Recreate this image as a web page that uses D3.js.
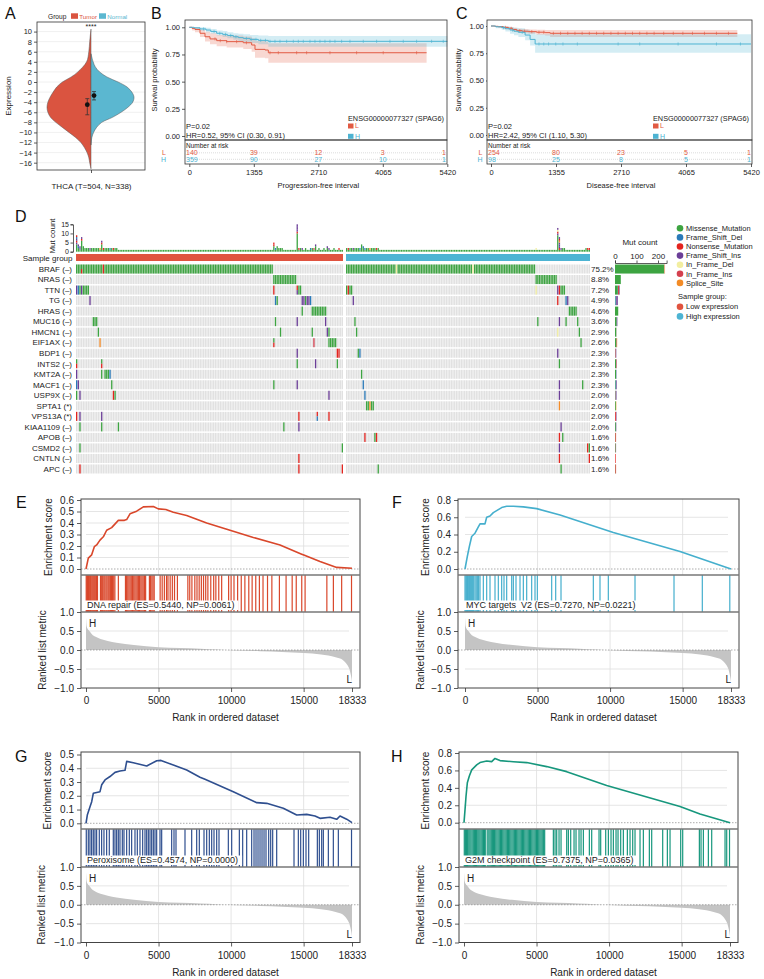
<!DOCTYPE html>
<html><head><meta charset="utf-8">
<script src="https://cdn.jsdelivr.net/npm/d3@7/dist/d3.min.js"></script>
<style>html,body{margin:0;padding:0;background:#fff;}svg{display:block;}</style>
</head><body>
<script>
// ================= DATA =================
// ---- Panel A (violin)
const aCategory = ['THCA (T=504, N=338)'];
const aGroups = ['Tumor','Normal'];
const aTicks = [10,8,6,4,2,0,-2,-4,-6,-8,-10,-12,-14,-16];
const tumorLevels = [10.5,8,6,4,2,1,0,-1,-2,-3,-4,-5,-6,-7,-8,-9,-10,-11,-12,-13,-14,-15,-16,-17.2];
const tumorDensity = [0,0.03,0.05,0.1,0.3,0.45,0.65,0.78,0.86,0.93,0.98,1.0,0.98,0.92,0.8,0.65,0.5,0.35,0.23,0.15,0.09,0.05,0.03,0];
const normalLevels = [5.6,4,3,2,1,0,-1,-2,-3,-4,-5,-6,-7,-8,-9,-10,-11,-12.5];
const normalDensity = [0,0.05,0.1,0.2,0.37,0.63,0.84,0.95,1.0,0.97,0.86,0.7,0.5,0.25,0.13,0.06,0.02,0];
const aCenter = [-4.5,-2.7];
const aLower = [-6.5,-3.55];
const aUpper = [-3.3,-1.9];

// ---- Panels B, C (Kaplan-Meier)
const kmTicks = [0,1355,2710,4065,5420];
const bLowTime = [0,60,120,225,330,435,575,785,1134,1310,1380,1590,1660,4985];
const bLowSurv = [1,0.99,0.98,0.945,0.913,0.893,0.877,0.868,0.858,0.837,0.797,0.791,0.766,0.766];
const bLowLo   = [1,0.97,0.955,0.91,0.87,0.845,0.825,0.815,0.8,0.775,0.72,0.715,0.674,0.674];
const bLowHi   = [1,1,1,0.98,0.96,0.945,0.93,0.925,0.915,0.9,0.875,0.87,0.853,0.853];
const bLowCens = [540,650,785,995,1200,1695,1870,2255,2465,2955,3515,4074,4775];
const bHighTime = [0,100,225,350,450,575,700,800,925,1030,1135,1275,1450,1660,5420];
const bHighSurv = [1,0.995,0.985,0.975,0.962,0.945,0.935,0.925,0.913,0.905,0.898,0.889,0.88,0.871,0.871];
const bHighLo   = [1,0.985,0.97,0.955,0.94,0.925,0.91,0.9,0.885,0.875,0.865,0.855,0.845,0.822,0.822];
const bHighHi   = [1,1,1,0.995,0.985,0.97,0.965,0.955,0.945,0.94,0.935,0.93,0.925,0.92,0.92];
const bHighCens = [300,520,640,760,870,980,1200,1300,1400,1500,1600,1695,1800,1905,2045,2185,2290,2395,2535,2640,2745,2850,2955,3060,3200,3375,3655,3935,4215,4495,4775,5090,5335];
const bRiskL = [140,39,12,3,1];
const bRiskH = [359,90,27,10,1];

const cLowTime = [0,80,153,250,362,450,537,650,780,950,1129,1233,5135];
const cLowSurv = [1,0.997,0.994,0.987,0.979,0.968,0.957,0.952,0.948,0.943,0.939,0.933,0.933];
const cLowLo   = [1,0.99,0.985,0.975,0.965,0.95,0.94,0.933,0.928,0.92,0.912,0.9,0.9];
const cLowHi   = [1,1,1,0.997,0.99,0.985,0.975,0.972,0.968,0.965,0.963,0.963,0.963];
const cLowCens = [300,420,600,700,850,1000,1100,1300,1450,1600,1750,1900,2050,2200,2350,2500,2650,2800,2950,3100,3250,3400,3600,3800,4000,4200,4450,4700,4950];
const cHighTime = [0,100,223,300,397,480,571,711,815,920,5420];
const cHighSurv = [1,0.993,0.985,0.975,0.963,0.952,0.942,0.917,0.877,0.835,0.835];
const cHighLo   = [1,0.98,0.965,0.95,0.93,0.915,0.9,0.87,0.82,0.755,0.755];
const cHighHi   = [1,1,1,0.995,0.99,0.985,0.98,0.965,0.945,0.925,0.925];
const cHighCens = [260,450,650,1000,1100,1200,1350,1500,1800,2650,3100,3900,4700,5200];
const cRiskL = [254,80,23,5,1];
const cRiskH = [98,25,8,5,1];

// ---- Panel D (oncoplot)
const geneNames = ['BRAF','NRAS','TTN','TG','HRAS','MUC16','HMCN1','EIF1AX','BDP1','INTS2','KMT2A','MACF1','USP9X','SPTA1','VPS13A','KIAA1109','APOB','CSMD2','CNTLN','APC'];
const geneTags = ['–','–','–','–','–','–','–','–','–','–','–','–','–','*','*','–','–','–','–','–'];
const genePct = ['75.2%','8.8%','7.2%','4.9%','4.6%','3.6%','2.9%','2.6%','2.3%','2.3%','2.3%','2.3%','2.0%','2.0%','2.0%','2.0%','1.6%','1.6%','1.6%','1.6%'];
const typeCodes = ['M','D','N','I','F','S','P'];
const typeNames = ['Missense_Mutation','Frame_Shift_Del','Nonsense_Mutation','Frame_Shift_Ins','In_Frame_Del','In_Frame_Ins','Splice_Site'];
const typeColors = ['#3DA441','#2A7AB9','#E3241F','#6B3E98','#F2EEA0','#D4414F','#F38B26'];
const groupNames = ['Low expression','High expression'];
const groupColors = ['#E0533F','#4DB4D3'];
// sample index : variant code, per gene (low expression group)
const lowMut = [
 '0-117:M,16:N,3:MN',
 '118-131:M',
 '0:I,1:D,2:M,3:I,4-7:M,118:N,132:NI,133-134:M',
 '8:I,119:D,120:M,135:I,136:I,137:M,138:I,139:I,140:D',
 '135:M,141-149:M',
 '10-12:M,119:M,132:I,149:I',
 '13:M,122:M,141:M,150:I,151:M',
 '14:P,118:MN,142:S,151-155:M',
 '132:I,156-157:N',
 '0:MN,15:MN,132:M,143:I,156:M',
 '0:I,15:M,17-19:M,20:D',
 '0:D,1:I,21:M,118:M,132:I',
 '0:M,2:I,22:N,23:M,151:I',
 '',
 '0:N,2:I,15:I,133:N,144:ND,151:N',
 '2:M,15:M,25:M,124:M,133:I',
 '',
 '2:M,159:M',
 '133:N',
 '2:N,133:N,159:N'
];
// high expression group
const highMut = [
 '0-113:M,30:F,76:F',
 '114-126:M',
 '0:M,1:N,2-3:M,114:F,127:I,128:N,129-131:M',
 '4:I,127:N,132:D,133:I',
 '134-138:M',
 '5:M,115:M,128:I,132:M,139:M',
 '6:M,127:F,140:M',
 '141:M',
 '7:M,8:D,127:I',
 '128:M',
 '9:M',
 '10:D,128:I,142:M',
 '11:D,128:I',
 '12:M,13:M,14:P,15:M,16:M,128:P',
 '',
 '129:I',
 '11:N,17:M,18:N,128:N,130:M',
 '128:I,145:N,146:M',
 '128:N,146:N',
 '19:M,129:M'
];
const tmbTicks = [0,5,10,15];
const tmbLow = [9,4,3,8,3, 2,2,2,2,2,2,2,2,2,2, 6, 2,2,2,2,2,2,2,2,2,
 1,1,1,1,1,1,1,1,1,1, 1,1,1,1,1,1,1,1,1,1, 1,1,1,1,1,1,1,1,1,1, 1,1,1,1,1,1,1,1,1,1,
 1,1,1,1,1,1,1,1,1,1, 1,1,1,1,1,1,1,1,1,1, 1,1,1,1,1,1,1,1,1,1, 1,1,1,1,1,1,1,1,1,1,
 1,1,1,1,1,1,1,1,1,1, 1,1,1,
 5, 2,3,2,2,2, 1,1,1,1,1,1,1,1, 15, 2,2,2,1,2,1,1,2, 2,2,4, 1,2,1,1,2,1, 3, 2,1,1,2,1,1,2,1,1];
const tmbHigh = [2,2,2,2,2,2,2,2,2,4,3, 2,2,2,2,2,2,2,2,2,
 1,1,1,1,1,1,1,1,1,1, 1,1,1,1,1,1,1,1,1,1, 1,1,1,1,1,1,1,1,1,1, 1,1,1,1,1,1,1,1,1,1,
 1,1,1,1,1,1,1,1,1,1, 1,1,1,1,1,1,1,1,1,1, 1,1,1,1,1,1,1,1,1,1, 1,1,1,1,1,1,1,1,1,1,
 1,1,1,1,1,1,1,1,1,1, 1,1,1,1,
 2, 1,1,1,1,1,1,1,1,1,1,1,1, 13, 8, 2,2,2,1,1,1,1,1,1,1,1,1,1,1,1,2,2,2];
const barTicks = [0,100,200];

// ---- Panels E-H (GSEA)
const nGenes = 18333;
const rankTicks = [0,5000,10000,15000,18333];
const metricTicks = [-1,-0.5,0,0.5,1];
const metricRank = [0,40,120,230,470,700,1000,1500,2100,3300,5000,6500,7900,9000,10300,12000,13500,15000,16200,17200,17700,18000,18150,18250,18300,18333];
const metricVal = [0.86,0.63,0.55,0.5,0.39,0.34,0.29,0.24,0.19,0.13,0.071,0.05,0.03,0.01,-0.01,-0.03,-0.05,-0.08,-0.12,-0.19,-0.26,-0.39,-0.5,-0.65,-0.75,-0.84];

const eRank = [0,159,391,574,735,965,1195,1424,1769,2228,2650,2803,3033,3492,3951,4640,4984,5500,6018,6937,8316,9924,11531,13371,14866,15100,16127,17278,18333];
const eES = [0,0.094,0.123,0.194,0.209,0.251,0.28,0.337,0.36,0.423,0.423,0.43,0.48,0.503,0.54,0.544,0.523,0.517,0.494,0.466,0.4,0.337,0.274,0.209,0.129,0.117,0.066,0.014,0.006];
const eHits = [15,60,110,170,230,300,360,430,500,570,640,720,790,1000,1080,1150,1230,1300,1380,1450,1530,1600,1680,1760,1830,1910,1990,2230,2720,2800,2880,2960,3040,3120,3200,3290,3370,3450,3530,3610,3690,3780,3860,3940,4030,4110,4370,4450,4540,4620,4700,5110,5250,5400,5550,5650,5800,5950,6100,6300,7020,7150,7300,7500,7650,7800,7950,8100,8250,8400,8600,8800,8950,9150,9350,9830,10000,10200,10450,10700,10950,11220,11450,11700,11950,12200,12510,12810,13330,13790,14210,14490,14870,15100,16600,17050,17620,18300];

const fRank = [0,161,299,460,689,873,1034,1378,1494,1723,1953,2183,2527,2872,3332,4021,4940,6550,10222,14819,18333];
const fES = [0,0.146,0.26,0.377,0.415,0.473,0.523,0.523,0.6,0.615,0.654,0.677,0.712,0.727,0.727,0.72,0.7,0.627,0.424,0.204,0];
const fHits = [0,60,115,180,253,320,391,460,529,600,689,770,850,940,1034,1264,1494,1723,2068,2297,2527,2688,2872,3217,3332,3515,3791,4021,4251,4595,4825,4986,5974,6250,6617,8845,9304,9878,11717,14405,16356,18250];

const gRank = [0,90,276,393,503,965,1082,1310,1654,1999,2343,2688,2805,3260,4183,4873,5169,6017,6940,7857,8201,10152,11765,12454,13598,14521,15211,15783,16127,16816,17278,17506,17967,18333];
const gES = [0,0.06,0.12,0.157,0.218,0.23,0.28,0.315,0.34,0.37,0.38,0.385,0.45,0.44,0.416,0.455,0.457,0.423,0.387,0.335,0.32,0.23,0.15,0.145,0.109,0.06,0.065,0.053,0.036,0.044,0.029,0.053,0.03,0.005];
const gHits = [20,158,273,388,503,618,733,917,1077,1238,1422,1606,1882,1997,2112,2227,2342,2503,2618,2802,2985,3146,3376,3537,3721,3905,4066,4181,4296,4411,4526,4640,4755,4870,5100,5215,5904,6065,6203,6823,7283,7628,7811,8133,8317,8501,8662,8822,9006,9167,9810,10040,10569,10798,11074,11419,11580,11717,11855,11993,12131,12269,12406,12590,12728,12866,13142,14336,14635,14796,14980,15163,15347,15945,16083,16243,16358,16703,17047,17392,18300];

const hRank = [0,69,138,230,368,531,875,1103,1564,1909,2137,2481,3398,4321,5700,7078,9835,14887,16265,18333];
const hES = [0,0.147,0.3,0.458,0.536,0.606,0.663,0.69,0.709,0.701,0.7375,0.713,0.70,0.69,0.644,0.586,0.427,0.186,0.10,0];
const hHits = [20,95,170,250,330,405,480,560,640,715,790,870,950,1025,1100,1180,1260,1340,1420,1500,1640,1720,1800,1880,1955,2030,2110,2190,2270,2350,2430,2510,2590,2670,2750,2830,2910,2990,3070,3150,3230,3310,3390,3470,3550,3630,3710,3790,3870,3950,4030,4110,4190,4270,4350,4430,4510,4590,4670,4750,4830,4910,4990,5070,5150,5230,5310,5390,5470,5560,6159,6274,6389,6550,6688,7078,7193,7354,7584,7721,7928,8066,8227,8640,8801,9306,9421,9766,9950,10133,10294,10478,10616,10799,10983,11259,11443,11627,11787,12132,12362,12775,12936,13694,14016,14200,14935,15073,16222,16337,16498,16842,17072,17991,18106,18300];

// ================= DRAWING =================
const FONT = '"Liberation Sans", Arial, Helvetica, sans-serif';
const svg = d3.select('body').append('svg').attr('width',764).attr('height',979).attr('font-family',FONT);
svg.append('rect').attr('width',764).attr('height',979).attr('fill','#fff');

function txt(g, s, x, y, o = {}) {
  const t = g.append('text').attr('x', x).attr('y', y).text(s)
    .attr('font-size', o.size || 8).attr('fill', o.fill || '#222').style('white-space', 'pre');
  if (o.anchor) t.attr('text-anchor', o.anchor);
  if (o.rotate) t.attr('transform', `rotate(-90,${x},${y})`);
  return t;
}
function styleAxis(sel, size, keepDomain) {
  sel.attr('font-family', FONT).attr('font-size', size);
  sel.selectAll('text').attr('fill', '#222');
  sel.selectAll('line').attr('stroke', '#333').attr('stroke-width', 0.8);
  if (keepDomain) sel.select('.domain').attr('stroke', '#333').attr('stroke-width', 0.8);
  else sel.select('.domain').remove();
}

// panel letters
[['A',5,19],['B',151,19],['C',456,19],['D',15,222],['E',16,508],['F',392,508],['G',15,762],['H',391,762]]
  .forEach(([s,x,y]) => txt(svg, s, x, y, {size: 16, fill: '#111'}));

// ---------- Panel A ----------
(function () {
  const g = svg.append('g');
  const L = 37, R = 145, T = 22, B = 170;
  const y = d3.scaleLinear().domain([-17.45, 11.9]).range([B, T]);
  const x = d3.scalePoint().domain(aCategory).range([L, R]).padding(0.5);
  const col = d3.scaleOrdinal().domain(aGroups).range(['#DA5440', '#5BB7D0']);
  const cx = x(aCategory[0]);
  g.selectAll('.gl').data(aTicks).join('line')
    .attr('x1', L).attr('x2', R).attr('y1', d => y(d)).attr('y2', d => y(d))
    .attr('stroke', '#ececec').attr('stroke-width', 0.8);
  const wT = d3.scaleLinear().domain([0, 1]).range([0, 44]);
  const wN = d3.scaleLinear().domain([0, 1]).range([0, 43]);
  const tData = tumorLevels.map((v, i) => [v, tumorDensity[i]]);
  const nData = normalLevels.map((v, i) => [v, normalDensity[i]]);
  const areaT = d3.area().curve(d3.curveCatmullRom).y(d => y(d[0])).x0(d => cx - wT(d[1])).x1(cx);
  const areaN = d3.area().curve(d3.curveCatmullRom).y(d => y(d[0])).x0(cx).x1(d => cx + wN(d[1]));
  g.append('path').attr('d', areaT(tData)).attr('fill', col('Tumor')).attr('stroke', '#555').attr('stroke-width', 0.5);
  g.append('path').attr('d', areaN(nData)).attr('fill', col('Normal')).attr('stroke', '#555').attr('stroke-width', 0.5);
  const offs = [-3.7, 3];
  aGroups.forEach((grp, i) => {
    const px = cx + offs[i];
    g.append('line').attr('x1', px).attr('x2', px).attr('y1', y(aLower[i])).attr('y2', y(aUpper[i])).attr('stroke', '#333').attr('stroke-width', 0.8);
    [aLower[i], aUpper[i]].forEach(v => g.append('line').attr('x1', px - 2).attr('x2', px + 2).attr('y1', y(v)).attr('y2', y(v)).attr('stroke', '#333').attr('stroke-width', 0.8));
    g.append('circle').attr('cx', px).attr('cy', y(aCenter[i])).attr('r', 2.4).attr('fill', '#111');
  });
  g.append('rect').attr('x', L).attr('y', T).attr('width', R - L).attr('height', B - T).attr('fill', 'none').attr('stroke', '#333').attr('stroke-width', 0.8);
  g.append('g').attr('transform', `translate(${L},0)`).call(d3.axisLeft(y).tickValues(aTicks).tickSize(3).tickPadding(2)).call(s => styleAxis(s, 7.5));
  g.append('g').attr('transform', `translate(0,${B})`).call(d3.axisBottom(x).tickSize(3).tickPadding(10)).call(s => styleAxis(s, 8));
  txt(g, 'Expression', 11, (T + B) / 2, {size: 8, anchor: 'middle', rotate: true});
  txt(g, '****', cx, 29, {size: 7, anchor: 'middle'});
  // legend
  txt(g, 'Group', 48, 18.5, {size: 6.6});
  g.append('rect').attr('x', 71).attr('y', 13.3).attr('width', 7).attr('height', 5.5).attr('fill', col('Tumor'));
  txt(g, 'Tumor', 79.3, 18.5, {size: 6.2, fill: col('Tumor')});
  g.append('rect').attr('x', 99).attr('y', 13.3).attr('width', 7).attr('height', 5.5).attr('fill', col('Normal'));
  txt(g, 'Normal', 107.3, 18.5, {size: 6.2, fill: col('Normal')});
})();

// ---------- Panels B & C ----------
function drawKM(o) {
  const g = svg.append('g');
  const red = '#E15A43', blue = '#4DB3D2';
  const x = d3.scaleLinear().domain([0, 5420]).range(o.xr);
  const y = d3.scaleLinear().domain([0, 1]).range(o.yr);
  const band = d3.area().curve(d3.curveStepAfter).x(d => x(d.t)).y0(d => y(d.lo)).y1(d => y(d.hi));
  const line = d3.line().curve(d3.curveStepAfter).x(d => x(d.t)).y(d => y(d.s));
  const series = [
    {c: red, t: o.low[0], s: o.low[1], lo: o.low[2], hi: o.low[3], cens: o.low[4]},
    {c: blue, t: o.high[0], s: o.high[1], lo: o.high[2], hi: o.high[3], cens: o.high[4]}
  ];
  series.forEach(S => {
    S.data = S.t.map((t, i) => ({t, s: S.s[i], lo: S.lo[i], hi: S.hi[i]}));
    g.append('path').attr('d', band(S.data)).attr('fill', S.c).attr('opacity', 0.24);
  });
  series.forEach(S => {
    g.append('path').attr('d', line(S.data)).attr('fill', 'none').attr('stroke', S.c).attr('stroke-width', 1);
    S.cens.forEach(c => {
      const i = Math.max(0, d3.bisectRight(S.t, c) - 1);
      g.append('line').attr('x1', x(c)).attr('x2', x(c)).attr('y1', y(S.s[i]) - 1.6).attr('y2', y(S.s[i]) + 1.6).attr('stroke', S.c).attr('stroke-width', 0.6);
    });
  });
  g.append('rect').attr('x', o.L).attr('y', o.T).attr('width', o.R - o.L).attr('height', o.B - o.T).attr('fill', 'none').attr('stroke', '#333').attr('stroke-width', 0.8);
  g.append('g').attr('transform', `translate(${o.L},0)`)
    .call(d3.axisLeft(y).tickValues([0, 0.25, 0.5, 0.75, 1]).tickFormat(d3.format('.2f')).tickSize(o.tk).tickPadding(2))
    .call(s => styleAxis(s, 7.5));
  txt(g, 'Survival probability', o.ylabX, (o.T + o.B) / 2, {size: 7.5, anchor: 'middle', rotate: true});
  txt(g, o.p, o.L + 1, o.B - 10.7, {size: 7.5});
  txt(g, o.hr, o.L + 1, o.B - 2.3, {size: 7.5});
  // legend
  const tt = txt(g, 'ENSG00000077327 (SPAG6)', o.R - 3, o.B - 19.5, {size: 7.3, anchor: 'end'});
  const lx = o.R - 3 - tt.node().getComputedTextLength();
  g.append('rect').attr('x', lx).attr('y', o.B - 16.5).attr('width', 5.5).attr('height', 5).attr('fill', red);
  txt(g, 'L', lx + 7, o.B - 11.6, {size: 7, fill: red});
  g.append('rect').attr('x', lx).attr('y', o.B - 6.2).attr('width', 5.5).attr('height', 5).attr('fill', blue);
  txt(g, 'H', lx + 7, o.B - 1.3, {size: 7, fill: blue});
  // risk table
  g.append('rect').attr('x', o.L).attr('y', o.B).attr('width', o.R - o.L).attr('height', o.TB - o.B).attr('fill', 'none').attr('stroke', '#333').attr('stroke-width', 0.8);
  txt(g, 'Number at risk', o.L + 1, o.B + 8, {size: 6.5});
  [[o.B + 12.8, red, 'L', o.risk[0]], [o.B + 19.3, blue, 'H', o.risk[1]]].forEach(([yy, c, lab, vals]) => {
    g.append('line').attr('x1', o.L).attr('x2', o.R).attr('y1', yy).attr('y2', yy).attr('stroke', '#bbb').attr('stroke-width', 0.5).attr('stroke-dasharray', '1,1');
    txt(g, lab, o.rowLabX, yy + 2.5, {size: 7, fill: c, anchor: 'end'});
    vals.forEach((v, i) => {
      const last = i === vals.length - 1;
      const anchor = i === 0 ? 'start' : (last ? 'end' : 'middle');
      const xx = i === 0 ? o.L + 1 : (last ? o.R - 1 : x(kmTicks[i]));
      txt(g, v, xx, yy + 2.5, {size: 7, fill: c, anchor});
    });
  });
  g.append('g').attr('transform', `translate(0,${o.TB})`)
    .call(d3.axisBottom(x).tickValues(kmTicks).tickFormat(d3.format('d')).tickSize(3).tickPadding(3))
    .call(s => styleAxis(s, 7.5));
  txt(g, o.xlab, (o.xr[0] + o.xr[1]) / 2, o.TB + 23.5, {size: 7.5, anchor: 'middle'});
}
drawKM({L: 185, R: 447, T: 20, B: 140, TB: 164, xr: [189.3, 447.3], yr: [136, 27.3], tk: 3,
  low: [bLowTime, bLowSurv, bLowLo, bLowHi, bLowCens], high: [bHighTime, bHighSurv, bHighLo, bHighHi, bHighCens],
  risk: [bRiskL, bRiskH], p: 'P=0.02', hr: 'HR=0.52, 95% CI (0.30, 0.91)', xlab: 'Progression-free interval', ylabX: 157, rowLabX: 166});
drawKM({L: 487, R: 752, T: 20, B: 140, TB: 164, xr: [491, 751], yr: [135, 26], tk: 1,
  low: [cLowTime, cLowSurv, cLowLo, cLowHi, cLowCens], high: [cHighTime, cHighSurv, cHighLo, cHighHi, cHighCens],
  risk: [cRiskL, cRiskH], p: 'P=0.02', hr: 'HR=2.42, 95% CI (1.10, 5.30)', xlab: 'Disease-free interval', ylabX: 461, rowLabX: 482.5});

// ---------- Panel D ----------
function parseMut(str) {
  const m = new Map();
  if (!str) return m;
  str.split(',').forEach(tok => {
    const [r, t] = tok.split(':');
    const [a, b] = r.split('-').map(Number);
    const end = (b === undefined || isNaN(b)) ? a : b;
    for (let i = a; i <= end; i++) m.set(i, t);
  });
  return m;
}
(function () {
  const g = svg.append('g');
  const col = d3.scaleOrdinal().domain(typeCodes).range(typeColors);
  const yRow = d3.scaleBand().domain(geneNames).range([264.5, 473.5]).paddingInner(0.14);
  const yT = d3.scaleLinear().domain([0, 15]).range([251.7, 224.3]);
  const xB = d3.scaleLinear().domain([0, 240]).range([615, 666.6]);
  const groups = [
    {x: d3.scaleBand().domain(d3.range(tmbLow.length)).range([76, 343]).paddingInner(0.22), muts: lowMut.map(parseMut), tmb: tmbLow, color: groupColors[0]},
    {x: d3.scaleBand().domain(d3.range(tmbHigh.length)).range([346, 590]).paddingInner(0.22), muts: highMut.map(parseMut), tmb: tmbHigh, color: groupColors[1]}
  ];
  const counts = geneNames.map(() => ({}));
  groups.forEach(gr => {
    const bw = gr.x.bandwidth();
    geneNames.forEach((gene, gi) => {
      g.append('g').selectAll('rect').data(gr.x.domain()).join('rect')
        .attr('x', d => gr.x(d)).attr('y', yRow(gene)).attr('width', bw).attr('height', yRow.bandwidth()).attr('fill', '#E1E1E1');
      gr.muts[gi].forEach((t, idx) => {
        const h = yRow.bandwidth() / t.length;
        t.split('').forEach((c, k) => {
          g.append('rect').attr('x', gr.x(idx)).attr('y', yRow(gene) + k * h).attr('width', bw).attr('height', h).attr('fill', col(c));
          counts[gi][c] = (counts[gi][c] || 0) + 1;
        });
      });
    });
    gr.tmb.forEach((v, idx) => {
      const extra = [];
      gr.muts.forEach(m => { if (m.has(idx)) m.get(idx).split('').forEach(c => { if (c !== 'M') extra.push(c); }); });
      const ex = extra.slice(0, Math.max(0, v - 1));
      const stack = [['M', v - ex.length]].concat(ex.map(c => [c, 1]));
      let acc = 0;
      stack.forEach(([c, n]) => {
        if (n <= 0) return;
        g.append('rect').attr('x', gr.x(idx)).attr('width', bw).attr('y', yT(acc + n)).attr('height', yT(acc) - yT(acc + n)).attr('fill', col(c));
        acc += n;
      });
    });
    const r = gr.x.range();
    g.append('rect').attr('x', r[0]).attr('width', r[1] - r[0]).attr('y', 254).attr('height', 7).attr('fill', gr.color);
  });
  g.append('g').attr('transform', 'translate(73,0)').call(d3.axisLeft(yT).tickValues(tmbTicks).tickSize(2.5).tickPadding(1.5)).call(s => styleAxis(s, 7, true));
  txt(g, 'Mut count', 55, 236, {size: 8, anchor: 'middle', rotate: true});
  txt(g, 'Sample group', 72.5, 261, {size: 8, anchor: 'end'});
  geneNames.forEach((gene, gi) => {
    const yc = yRow(gene) + yRow.bandwidth() / 2 + 2.8;
    txt(g, `${gene} (${geneTags[gi]})`, 72, yc, {size: 8, anchor: 'end'});
    txt(g, genePct[gi], 591, yc, {size: 8});
    let acc = 0;
    typeCodes.forEach(c => {
      const n = counts[gi][c] || 0;
      if (!n) return;
      g.append('rect').attr('x', xB(acc)).attr('width', xB(acc + n) - xB(acc)).attr('y', yRow(gene)).attr('height', yRow.bandwidth()).attr('fill', col(c));
      acc += n;
    });
  });
  g.append('g').attr('transform', 'translate(0,263)').call(d3.axisTop(xB).tickValues(barTicks).tickSize(2.5).tickPadding(2)).call(s => styleAxis(s, 8, true));
  txt(g, 'Mut count', 640, 245, {size: 8, anchor: 'middle'});
  typeNames.forEach((nm, i) => {
    const yy = 228.3 + i * 9.1;
    g.append('circle').attr('cx', 680).attr('cy', yy).attr('r', 3.3).attr('fill', typeColors[i]);
    txt(g, nm, 686, yy + 2.7, {size: 7.5});
  });
  txt(g, 'Sample group:', 678, 299.3, {size: 7.5});
  groupNames.forEach((nm, i) => {
    const yy = 306.7 + i * 9.7;
    g.append('circle').attr('cx', 680).attr('cy', yy).attr('r', 3.3).attr('fill', groupColors[i]);
    txt(g, nm, 686, yy + 2.7, {size: 7.5});
  });
})();

// ---------- Panels E-H ----------
function drawGSEA(o) {
  const g = svg.append('g');
  const x = d3.scaleLinear().domain([0, nGenes]).range(o.xr);
  const yE = d3.scaleLinear().domain([0, o.esMax]).range([o.es0, o.esTop]);
  const yR = d3.scaleLinear().domain([-1, 1]).range([o.rb, o.hb]);
  const grid = '#dedede';
  const inner = [5000, 10000, 15000];
  g.selectAll('.hg').data(o.esTicks.filter(d => d > 0 && d < o.esMax - 1e-9)).join('line')
    .attr('x1', x(0)).attr('x2', x(nGenes) - 3).attr('y1', d => yE(d)).attr('y2', d => yE(d)).attr('stroke', grid).attr('stroke-width', 0.8);
  g.selectAll('.hg2').data([-0.5, 0.5]).join('line')
    .attr('x1', x(0)).attr('x2', x(nGenes) - 3).attr('y1', d => yR(d)).attr('y2', d => yR(d)).attr('stroke', grid).attr('stroke-width', 0.8);
  inner.forEach(v => {
    g.append('line').attr('x1', x(v)).attr('x2', x(v)).attr('y1', o.et).attr('y2', o.eb).attr('stroke', grid).attr('stroke-width', 0.8);
    g.append('line').attr('x1', x(v)).attr('x2', x(v)).attr('y1', o.hb).attr('y2', o.rb).attr('stroke', grid).attr('stroke-width', 0.8);
  });
  const mData = metricRank.map((r, i) => [r, metricVal[i]]);
  g.append('path').attr('d', d3.area().curve(d3.curveMonotoneX).x(d => x(d[0])).y0(yR(0)).y1(d => yR(d[1]))(mData)).attr('fill', '#c4c4c4');
  [yE(0), yR(0)].forEach(yy => g.append('line').attr('x1', o.fx0).attr('x2', o.fx1).attr('y1', yy).attr('y2', yy).attr('stroke', '#888').attr('stroke-width', 0.7).attr('stroke-dasharray', '1.5,1.5'));
  const eData = o.rank.map((r, i) => [r, o.es[i]]);
  g.append('path').attr('d', d3.line().x(d => x(d[0])).y(d => yE(d[1]))(eData)).attr('fill', 'none').attr('stroke', o.color).attr('stroke-width', 1.6).attr('stroke-linejoin', 'round');
  g.selectAll('.hit').data(o.hits).join('line')
    .attr('x1', d => x(d)).attr('x2', d => x(d)).attr('y1', o.eb).attr('y2', o.hb).attr('stroke', o.color).attr('stroke-width', 1.2);
  g.append('rect').attr('x', o.fx0).attr('y', o.et).attr('width', o.fx1 - o.fx0).attr('height', o.rb - o.et).attr('fill', 'none').attr('stroke', '#444').attr('stroke-width', 1);
  [o.eb, o.hb].forEach(yy => g.append('line').attr('x1', o.fx0).attr('x2', o.fx1).attr('y1', yy).attr('y2', yy).attr('stroke', '#777').attr('stroke-width', 1.6));
  const box = g.append('rect').attr('fill', '#fff');
  const lt = txt(g, o.label, x(0) + 1, o.hb - 4.3, {size: 9});
  const w = lt.node().getComputedTextLength();
  box.attr('x', x(0) - 1).attr('y', o.hb - 11.5).attr('width', w + 6).attr('height', 9.5);
  txt(g, 'H', x(0) + 3, o.hb + 15, {size: 10});
  txt(g, 'L', x(nGenes), o.rb - 5, {size: 10, anchor: 'end'});
  g.append('g').attr('transform', `translate(${o.fx0},0)`).call(d3.axisLeft(yE).tickValues(o.esTicks).tickFormat(d3.format('.1f')).tickSize(4).tickPadding(3)).call(s => styleAxis(s, 10));
  g.append('g').attr('transform', `translate(${o.fx0},0)`).call(d3.axisLeft(yR).tickValues(metricTicks).tickFormat(d3.format('.1f')).tickSize(4).tickPadding(3)).call(s => styleAxis(s, 10));
  g.append('g').attr('transform', `translate(0,${o.rb})`).call(d3.axisBottom(x).tickValues(rankTicks).tickFormat(d3.format('d')).tickSize(4).tickPadding(5)).call(s => styleAxis(s, 10));
  txt(g, 'Enrichment score', o.ylab1, (o.et + o.eb) / 2, {size: 10, anchor: 'middle', rotate: true});
  txt(g, 'Ranked list metric', o.ylab2, (o.hb + o.rb) / 2, {size: 10, anchor: 'middle', rotate: true});
  txt(g, 'Rank in ordered dataset', (o.fx0 + o.fx1) / 2 + 5, o.rb + 33, {size: 10, anchor: 'middle'});
}
drawGSEA({fx0: 81, fx1: 360, xr: [86, 352], et: 499, es0: 569, esTop: 500, esMax: 0.6, eb: 575, hb: 612, rb: 688,
  esTicks: [0, 0.1, 0.2, 0.3, 0.4, 0.5, 0.6], color: '#D9472B', rank: eRank, es: eES, hits: eHits,
  label: 'DNA repair (ES=0.5440, NP=0.0061)', ylab1: 51.5, ylab2: 45.5});
drawGSEA({fx0: 458, fx1: 739, xr: [465, 731], et: 499, es0: 569, esTop: 500, esMax: 0.8, eb: 575, hb: 612, rb: 688,
  esTicks: [0, 0.2, 0.4, 0.6, 0.8], color: '#45AFCD', rank: fRank, es: fES, hits: fHits,
  label: 'MYC targets  V2 (ES=0.7270, NP=0.0221)', ylab1: 429, ylab2: 424});
drawGSEA({fx0: 81, fx1: 360, xr: [86, 352], et: 752, es0: 823.3, esTop: 754.5, esMax: 0.5, eb: 829, hb: 867, rb: 942.5,
  esTicks: [0, 0.1, 0.2, 0.3, 0.4, 0.5], color: '#2F4F8F', rank: gRank, es: gES, hits: gHits,
  label: 'Peroxisome (ES=0.4574, NP=0.0000)', ylab1: 50.5, ylab2: 45});
drawGSEA({fx0: 459, fx1: 738, xr: [464, 730], et: 752, es0: 822.7, esTop: 753, esMax: 0.8, eb: 829, hb: 867, rb: 942.5,
  esTicks: [0, 0.2, 0.4, 0.6, 0.8], color: '#17977D', rank: hRank, es: hES, hits: hHits,
  label: 'G2M checkpoint (ES=0.7375, NP=0.0365)', ylab1: 429, ylab2: 424});
</script>
</body></html>
